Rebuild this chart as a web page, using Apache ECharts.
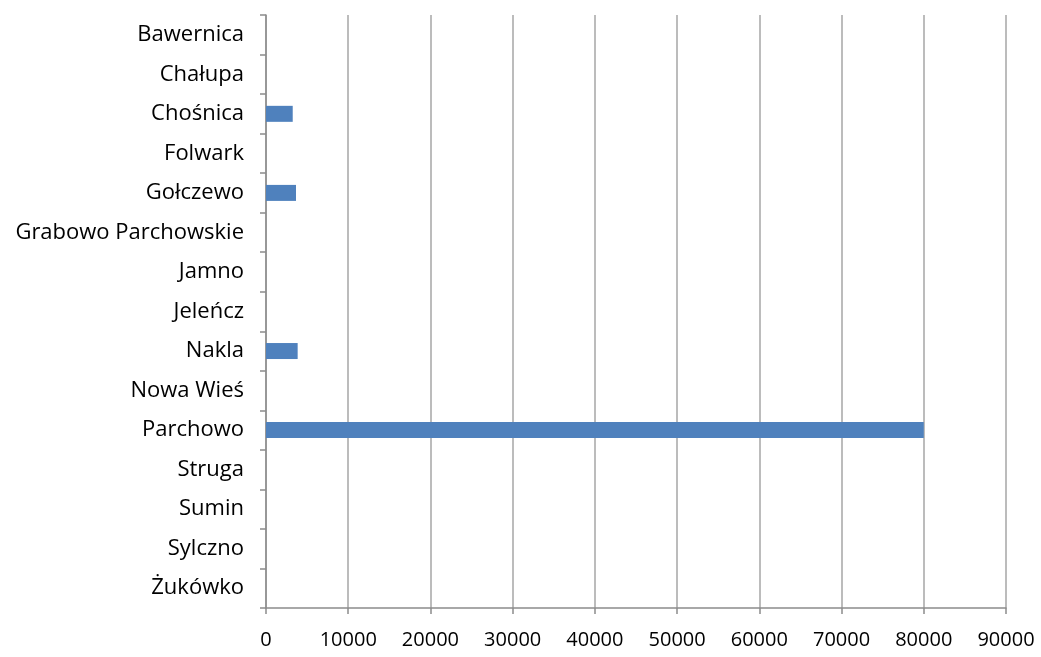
<!DOCTYPE html>
<html><head><meta charset="utf-8">
<script src="https://cdn.jsdelivr.net/npm/echarts@6/dist/echarts.min.js"></script>
<style>html,body{margin:0;padding:0;background:#fff}#c{width:1041px;height:657px}</style>
</head><body><div id="c"></div>
<script>
const categories = ["Bawernica","Chałupa","Chośnica","Folwark","Gołczewo","Grabowo Parchowskie","Jamno","Jeleńcz","Nakla","Nowa Wieś","Parchowo","Struga","Sumin","Sylczno","Żukówko"];
const values = [0,0,3250,0,3650,0,0,0,3850,0,80000,0,0,0,0];
const xTicks = {min:0,max:90000,interval:10000};
const chart = echarts.init(document.getElementById('c'));
chart.setOption({
  animation:false,
  grid:{left:266,right:35,top:15,bottom:49,containLabel:false},
  xAxis:{type:'value',min:xTicks.min,max:xTicks.max,interval:xTicks.interval,
    axisLine:{show:true,lineStyle:{color:'#8c8c8c',width:1.5}},
    axisTick:{show:true,length:6,lineStyle:{color:'#8c8c8c',width:1.5}},
    splitLine:{show:true,lineStyle:{color:'#a6a6a6',width:1.5}},
    axisLabel:{color:'#000',fontSize:20,fontFamily:'Open Sans',margin:22,formatter:v=>String(v)}},
  yAxis:{type:'category',data:categories,inverse:true,
    axisLine:{show:true,lineStyle:{color:'#8c8c8c',width:1.5}},
    axisTick:{show:true,length:6,lineStyle:{color:'#8c8c8c',width:1.5}},
    axisLabel:{color:'#000',fontSize:22,fontFamily:'Open Sans',margin:22,padding:[4,0,0,0]}},
  series:[{type:'bar',data:values,barWidth:16,
    itemStyle:{color:'#4f81bd',borderWidth:0}}]
});
</script></body></html>
